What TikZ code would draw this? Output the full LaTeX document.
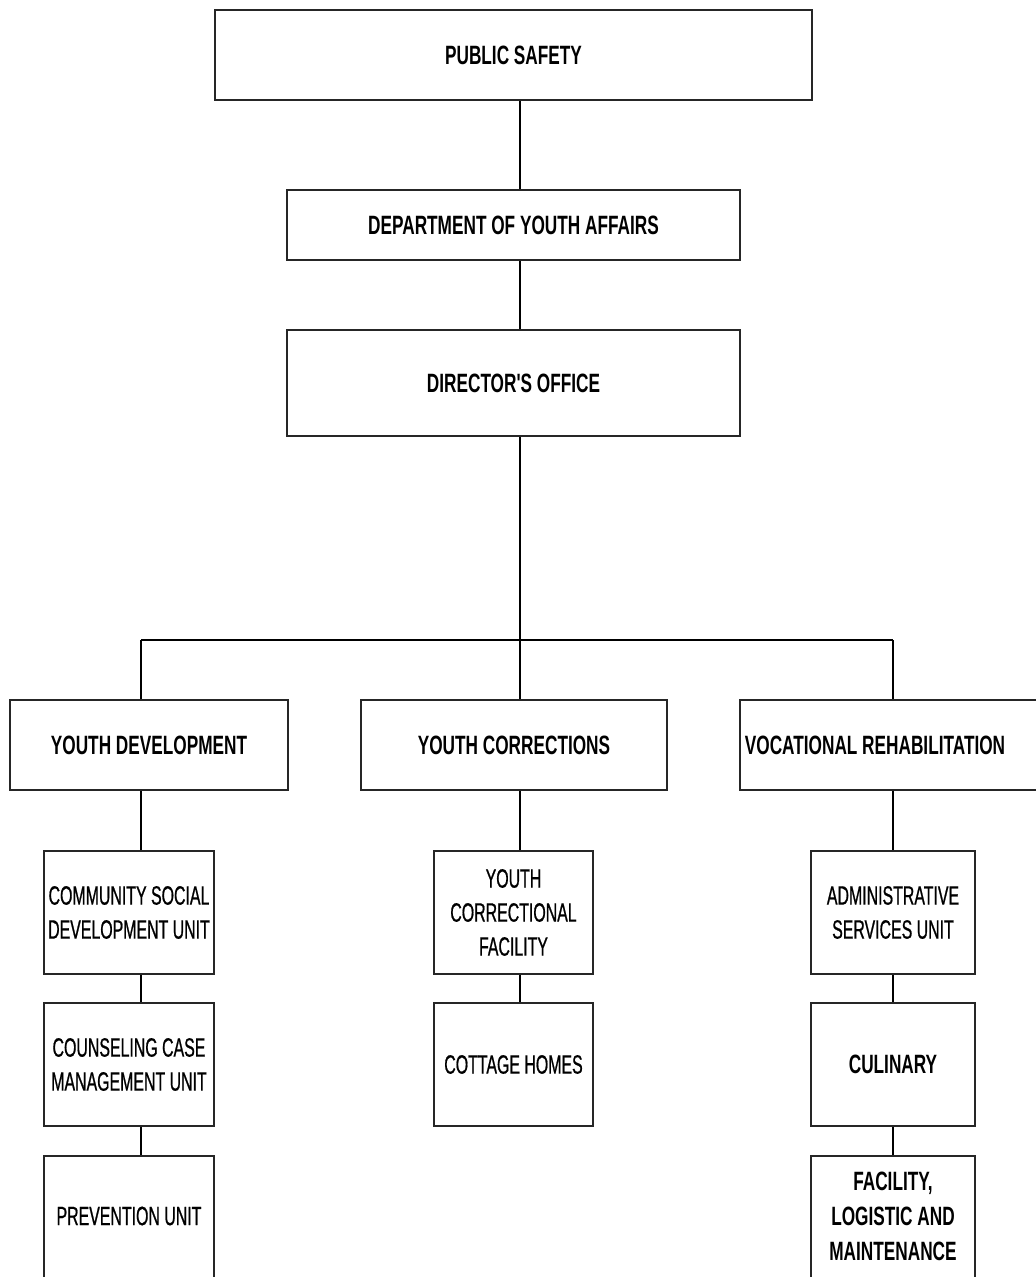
\documentclass[tikz,border=0pt]{standalone}
\usepackage{fontspec}
\newfontfamily\narr{Liberation Sans}[FakeStretch=0.6, FakeBold=0.7]
\newfontfamily\narb{Liberation Sans}[FakeStretch=0.65]
\begin{document}
\begin{tikzpicture}[x=1pt,y=-1pt,
  box/.style={draw=black!85, line width=1.7pt, rectangle, inner sep=0pt, align=center},
  bt/.style={font=\narb\bfseries\fontsize{26.5}{35}\selectfont, align=center, inner sep=0pt},
  rt/.style={font=\narr\fontsize{26.5}{34}\selectfont, align=center, inner sep=0pt},
  conn/.style={draw=black, line width=1.5pt}]
\useasboundingbox (0,0) rectangle (1036,1277);
\clip (0,0) rectangle (1036,1277);
\fill[white] (0,0) rectangle (1036,1277);
% top chain
\node[box, bt, minimum width=597pt, minimum height=90pt] (ps) at (513.5,55) {PUBLIC SAFETY};
\node[box, bt, minimum width=453pt, minimum height=70pt] (dya) at (513.5,225) {DEPARTMENT OF YOUTH AFFAIRS};
\node[box, bt, minimum width=453pt, minimum height=106pt] (dir) at (513.5,383) {DIRECTOR'S OFFICE};
% second level
\node[box, bt, minimum width=278pt, minimum height=90pt] (yd) at (149,745) {YOUTH DEVELOPMENT};
\node[box, bt, minimum width=306pt, minimum height=90pt] (yc) at (514,745) {YOUTH CORRECTIONS};
\node[box, minimum width=330pt, minimum height=90pt] (vr) at (905,745) {};
\node[bt] (vrt) at (875,745) {VOCATIONAL REHABILITATION};
% left column
\node[box, rt, minimum width=170pt, minimum height=123pt] (csd) at (129,912.5) {COMMUNITY SOCIAL\\DEVELOPMENT UNIT};
\node[box, rt, minimum width=170pt, minimum height=123pt] (ccm) at (129,1064.5) {COUNSELING CASE\\MANAGEMENT UNIT};
\node[box, minimum width=170pt, minimum height=123pt] (pu) at (129,1217.5) {};
\node[rt] (put) at (129,1216) {PREVENTION UNIT};
% middle column
\node[box, rt, minimum width=159pt, minimum height=123pt] (ycf) at (513.5,912.5) {YOUTH\\CORRECTIONAL\\FACILITY};
\node[box, rt, minimum width=159pt, minimum height=123pt] (ch) at (513.5,1064.5) {COTTAGE HOMES};
% right column
\node[box, rt, minimum width=164pt, minimum height=123pt] (asu) at (893,912.5) {ADMINISTRATIVE\\SERVICES UNIT};
\node[box, bt, minimum width=164pt, minimum height=123pt] (cul) at (893,1064.5) {CULINARY};
\node[box, minimum width=164pt, minimum height=123pt] (flm) at (893,1217.5) {};
\node[bt] (flmt) at (893,1216) {FACILITY,\\LOGISTIC AND\\MAINTENANCE};
% connectors
\coordinate (spine) at (520,0);
\coordinate (lx) at (141,0);
\coordinate (bus) at (0,640);
\draw[conn] (ps.south -| spine) -- (dya.north -| spine);
\draw[conn] (dya.south -| spine) -- (dir.north -| spine);
\draw[conn] (dir.south -| spine) -- (yc.north -| spine);
\draw[conn] (bus -| lx) -- (bus -| asu.north);
\draw[conn] (bus -| lx) -- (yd.north -| lx);
\draw[conn] (bus -| asu.north) -- (vr.north -| asu.north);
\draw[conn] (yd.south -| lx) -- (csd.north -| lx);
\draw[conn] (csd.south -| lx) -- (ccm.north -| lx);
\draw[conn] (ccm.south -| lx) -- (pu.north -| lx);
\draw[conn] (yc.south -| spine) -- (ycf.north -| spine);
\draw[conn] (ycf.south -| spine) -- (ch.north -| spine);
\draw[conn] (vr.south -| asu.north) -- (asu.north);
\draw[conn] (asu.south) -- (cul.north);
\draw[conn] (cul.south) -- (flm.north);
\end{tikzpicture}
\end{document}
